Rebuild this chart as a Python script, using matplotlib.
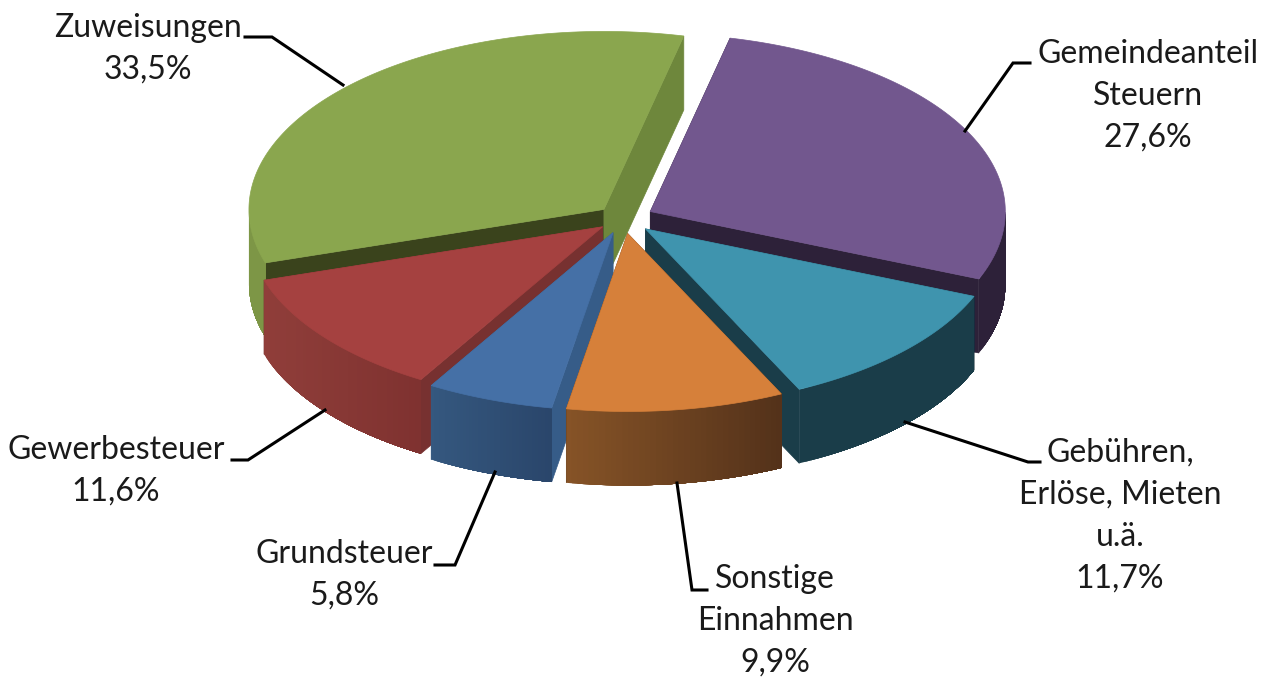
"""Exploded 3D pie chart of municipal income shares."""

import matplotlib

matplotlib.use("Agg")
import matplotlib.pyplot as plt
import numpy as np
from matplotlib.colors import to_rgb

# clockwise from the start angle
names = ["Gemeindeanteil\nSteuern", "Gebühren,\nErlöse, Mieten\nu.ä.", "Sonstige\nEinnahmen",
         "Grundsteuer", "Gewerbesteuer", "Zuweisungen"]
shares = [27.6, 11.7, 9.9, 5.8, 11.6, 33.5]
explode = [0.085, 0.085, 0.085, 0.085, 0.075, 0.075]

top_colors = ["#72578e", "#3f94ae", "#d6803a", "#4570a6", "#a54140", "#8aa64e"]
side_colors = ["#2d2139", "#1a3d49", "#5a3518", "#365c88", "#773130", "#3a431c"]
end_colors = ["#2d2139", "#1a3d49", "#5a3518", "#365c88", "#773130", "#6e873c"]
wall_left = ["#2d2139", "#1a3d49", "#875427", "#35587f", "#903e3a", "#7d9646"]
wall_right = ["#2d2139", "#1a3d49", "#54321a", "#2a466b", "#7f3230", "#7d9646"]

# back slices first, so the nearer ones cover them
draw_order = [5, 0, 1, 4, 3, 2]

# centre x and top y of each label block
label_pos = [(1148, 39), (1120, 438), (775, 564), (344, 539), (116, 435), (148, 13)]
leaders = [
    [(1030, 63), (1013, 63), (965, 131)],
    [(1040, 462), (1028, 462), (905, 422)],
    [(707, 590), (692, 590), (677, 483)],
    [(435, 565), (455, 565), (495, 472)],
    [(232, 460), (248, 460), (325, 410)],
    [(245, 37), (272, 37), (343, 85)],
]

CX, CY = 623.5, 218.5
RX, RY = 355, 178
DEPTH = 74
START = 13.0


def rim(apex, angles):
    """Points on the top ellipse, angles in degrees clockwise from the back."""
    rad = np.radians(angles)
    return apex[0] + RX * np.sin(rad), apex[1] - RY * np.cos(rad)


def draw_slice(ax, apex, a0, a1, idx):
    angles = np.linspace(a0, a1, 200)
    x, y = rim(apex, angles)

    # cut faces
    for (ex, ey), color in (((x[0], y[0]), side_colors[idx]), ((x[-1], y[-1]), end_colors[idx])):
        ax.fill([apex[0], ex, ex, apex[0]], [apex[1], ey, ey + DEPTH, apex[1] + DEPTH],
                color=color, lw=0.5)

    # outer wall, only the part turned to the viewer; each band paints over
    # the rest of the wall so no seams show between bands
    lo, hi = max(a0, 90), min(a1, 270)
    if hi > lo:
        edges = np.linspace(lo, hi, 40)
        wx, wy = rim(apex, edges)
        left, right = np.array(to_rgb(wall_left[idx])), np.array(to_rgb(wall_right[idx]))
        span = wx.max() - wx.min()
        order = range(len(edges) - 1) if wx[0] < wx[-1] else range(len(edges) - 2, -1, -1)
        for i in order:
            t = (wx[i] - wx.min()) / span
            if wx[0] < wx[-1]:
                bx, by = wx[i:], wy[i:]
            else:
                bx, by = wx[:i + 2], wy[:i + 2]
            ax.fill(np.r_[bx, bx[::-1]], np.r_[by, by[::-1] + DEPTH],
                    color=left + t * (right - left), lw=0)

    # top
    ax.fill(np.r_[apex[0], x], np.r_[apex[1], y], color=top_colors[idx], lw=0.5)


plt.rcParams["font.family"] = ["Lato", "DejaVu Sans"]

fig = plt.figure(figsize=(12.77, 6.77), dpi=100)
ax = fig.add_axes([0, 0, 1, 1])
ax.set_xlim(0, 1277)
ax.set_ylim(677, 0)
ax.axis("off")

fractions = np.array(shares) / sum(shares)
stops = START + 360 * np.r_[0, np.cumsum(fractions)]

for pts in leaders:
    ax.plot(*zip(*pts), color="black", lw=2.2, solid_joinstyle="miter")

for idx in draw_order:
    a0, a1 = stops[idx], stops[idx + 1]
    mid = np.radians(0.5 * (a0 + a1))
    apex = (CX + explode[idx] * RX * np.sin(mid), CY - explode[idx] * RY * np.cos(mid))
    draw_slice(ax, apex, a0, a1, idx)

for name, share, (x, y) in zip(names, shares, label_pos):
    label = name + "\n" + f"{share:.1f}".replace(".", ",") + "%"
    ax.text(x, y, label, ha="center", va="top", fontsize=23, color="#1a1a1a", linespacing=1.49)

fig.savefig("out.png", dpi=100)
plt.close(fig)
